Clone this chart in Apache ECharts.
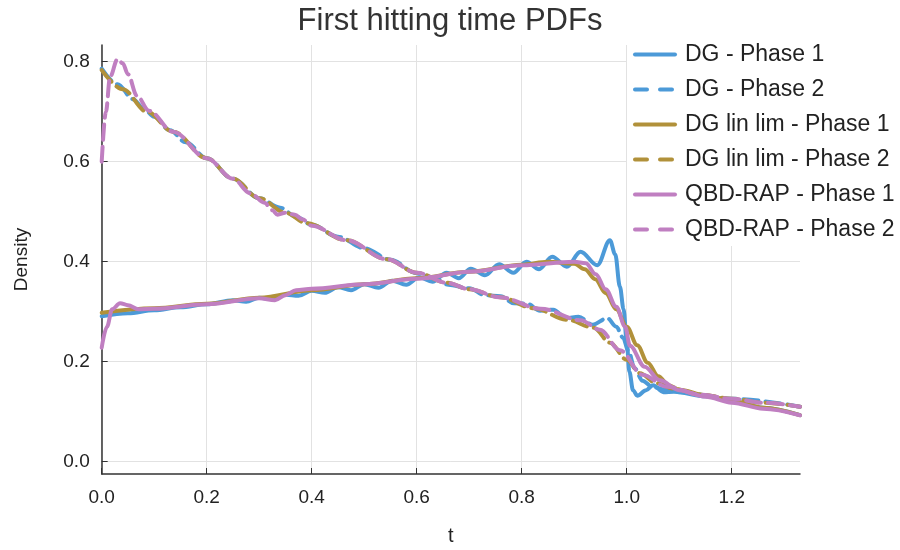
<!DOCTYPE html>
<html>
<head>
<meta charset="utf-8">
<script src="https://cdn.jsdelivr.net/npm/echarts@6/dist/echarts.min.js"></script>
<style>
  html, body { margin: 0; padding: 0; background: #fff; }
  #main { width: 900px; height: 550px; }
</style>
</head>
<body>
<div id="main"></div>
<script>
// [t, density] pairs
var dgPhase1 = [
  [0, 0.291], [0.05, 0.297], [0.1, 0.303], [0.15, 0.309], [0.2, 0.315], [0.25, 0.323],
  [0.275, 0.320], [0.3, 0.328], [0.325, 0.325], [0.35, 0.334], [0.375, 0.332], [0.4, 0.342],
  [0.425, 0.338], [0.45, 0.349], [0.475, 0.343], [0.5, 0.355], [0.527, 0.348], [0.553, 0.362],
  [0.58, 0.354], [0.605, 0.369], [0.63, 0.360], [0.657, 0.378], [0.68, 0.367], [0.703, 0.386],
  [0.73, 0.373], [0.757, 0.395], [0.784, 0.378], [0.809, 0.400], [0.833, 0.385], [0.858, 0.410],
  [0.886, 0.390], [0.912, 0.420], [0.944, 0.393], [0.968, 0.443], [0.978, 0.415], [0.987, 0.350],
  [0.994, 0.305], [1.0, 0.240], [1.005, 0.180], [1.012, 0.143], [1.02, 0.132], [1.037, 0.143],
  [1.05, 0.153], [1.07, 0.139], [1.09, 0.140], [1.15, 0.131], [1.2, 0.121], [1.26, 0.108],
  [1.33, 0.093]
];
var dgPhase2 = [
  [0, 0.786], [0.03, 0.755], [0.06, 0.725], [0.08, 0.706], [0.1, 0.690], [0.13, 0.663],
  [0.16, 0.639], [0.2, 0.607], [0.25, 0.566], [0.3, 0.527], [0.34, 0.508], [0.37, 0.490],
  [0.4, 0.474], [0.45, 0.450], [0.5, 0.427], [0.55, 0.404], [0.6, 0.377], [0.63, 0.369],
  [0.66, 0.354], [0.7, 0.347], [0.73, 0.333], [0.76, 0.331], [0.785, 0.317], [0.81, 0.316],
  [0.835, 0.302], [0.86, 0.304], [0.885, 0.287], [0.908, 0.290], [0.935, 0.274], [0.963, 0.287],
  [0.98, 0.270], [0.993, 0.248], [1.003, 0.222], [1.015, 0.187], [1.03, 0.162], [1.05, 0.149],
  [1.075, 0.144], [1.1, 0.139], [1.2, 0.126], [1.33, 0.110]
];
var linPhase1 = [
  [0, 0.298], [0.1, 0.307], [0.2, 0.316], [0.3, 0.328], [0.4, 0.343], [0.5, 0.355],
  [0.6, 0.367], [0.7, 0.380], [0.8, 0.394], [0.85, 0.400], [0.9, 0.396], [0.92, 0.385],
  [0.94, 0.365], [0.96, 0.337], [0.98, 0.305], [1.0, 0.270], [1.02, 0.233], [1.04, 0.198],
  [1.06, 0.171], [1.08, 0.153], [1.1, 0.144], [1.15, 0.133], [1.2, 0.122], [1.26, 0.108],
  [1.33, 0.093]
];
var linPhase2 = [
  [0, 0.783], [0.04, 0.745], [0.086, 0.700], [0.136, 0.660], [0.2, 0.607], [0.25, 0.566],
  [0.3, 0.527], [0.35, 0.498], [0.39, 0.477], [0.466, 0.443], [0.543, 0.405], [0.6, 0.378],
  [0.657, 0.358], [0.7, 0.345], [0.758, 0.329], [0.823, 0.307], [0.886, 0.284], [0.937, 0.268],
  [0.968, 0.238], [1.0, 0.204], [1.025, 0.177], [1.057, 0.157], [1.089, 0.146], [1.14, 0.134],
  [1.2, 0.126], [1.26, 0.118], [1.33, 0.110]
];
var qbdPhase1 = [
  [0, 0.228], [0.01, 0.270], [0.02, 0.305], [0.035, 0.317], [0.05, 0.313], [0.07, 0.305],
  [0.1, 0.306], [0.2, 0.315], [0.3, 0.327], [0.33, 0.323], [0.35, 0.333], [0.37, 0.343],
  [0.4, 0.346], [0.5, 0.355], [0.6, 0.366], [0.7, 0.380], [0.8, 0.393], [0.9, 0.400],
  [0.922, 0.397], [0.941, 0.375], [0.96, 0.345], [0.98, 0.310], [0.997, 0.270], [1.006, 0.232],
  [1.034, 0.190], [1.063, 0.163], [1.1, 0.143], [1.15, 0.130], [1.2, 0.118], [1.26, 0.106],
  [1.33, 0.093]
];
var qbdPhase2 = [
  [0, 0.600], [0.008, 0.700], [0.016, 0.770], [0.03, 0.805], [0.04, 0.797], [0.05, 0.775],
  [0.067, 0.732], [0.09, 0.702], [0.136, 0.660], [0.2, 0.607], [0.25, 0.566], [0.283, 0.537],
  [0.31, 0.518], [0.325, 0.503], [0.335, 0.494], [0.35, 0.498], [0.368, 0.494], [0.382, 0.485],
  [0.4, 0.472], [0.466, 0.443], [0.543, 0.405], [0.6, 0.378], [0.657, 0.358], [0.7, 0.345],
  [0.758, 0.329], [0.836, 0.306], [0.912, 0.283], [0.949, 0.264], [0.987, 0.223], [1.03, 0.174],
  [1.076, 0.150], [1.14, 0.134], [1.2, 0.126], [1.26, 0.118], [1.33, 0.110]
];

var seriesNames = ['DG - Phase 1', 'DG - Phase 2', 'DG lin lim - Phase 1',
                   'DG lin lim - Phase 2', 'QBD-RAP - Phase 1', 'QBD-RAP - Phase 2'];
var seriesData = [dgPhase1, dgPhase2, linPhase1, linPhase2, qbdPhase1, qbdPhase2];
var seriesColors = ['#4c9ad8', '#4c9ad8', '#b1913a', '#b1913a', '#c07fc1', '#c07fc1'];
var xTicks = [0, 0.2, 0.4, 0.6, 0.8, 1.0, 1.2];
var yTicks = [0, 0.2, 0.4, 0.6, 0.8];

var chart = echarts.init(document.getElementById('main'));

var series = [];
var legendData = [];
for (var i = 0; i < seriesData.length; i++) {
  var dashed = i % 2 === 1;
  series.push({
    name: seriesNames[i],
    type: 'line',
    data: seriesData[i],
    symbol: 'none',
    smooth: 0.35,
    smoothMonotone: 'x',
    color: seriesColors[i],
    lineStyle: { width: 4, type: dashed ? [15, 7] : 'solid', cap: 'round' }
  });
  legendData.push({
    name: seriesNames[i],
    itemStyle: { opacity: 0 },
    lineStyle: { width: 4, type: dashed ? [12, 13] : 'solid' }
  });
}

var font = 'Liberation Sans, Arial, sans-serif';

option = {
  animation: false,
  backgroundColor: '#fff',
  title: {
    text: 'First hitting time PDFs',
    left: 'center',
    top: 1,
    textStyle: { fontSize: 31, fontWeight: 'normal', color: '#333', fontFamily: font }
  },
  legend: {
    orient: 'vertical',
    left: 628,
    top: 38,
    itemWidth: 40,
    itemHeight: 20,
    itemGap: 12,
    data: legendData,
    itemStyle: { opacity: 0 },
    textStyle: { fontSize: 23, color: '#222', fontFamily: font, padding: [0, 0, 0, 5] }
  },
  graphic: [{
    type: 'rect',
    z: 1,
    shape: { x: 627, y: 36, width: 273, height: 210 },
    style: { fill: '#fff' }
  }],
  grid: { left: 101.7, right: 100, top: 45, bottom: 76, outerBoundsMode: 'none' },
  xAxis: {
    type: 'value',
    min: 0,
    max: 1.33,
    name: 't',
    nameLocation: 'middle',
    nameGap: 52,
    nameTextStyle: { fontSize: 20, color: '#222', fontFamily: font },
    axisLine: { onZero: false, lineStyle: { color: '#333', width: 1.5 } },
    axisTick: { inside: true, length: 6, customValues: xTicks, lineStyle: { color: '#333' } },
    axisLabel: {
      customValues: xTicks, fontSize: 19, color: '#222', fontFamily: font, margin: 14,
      formatter: function (v) { return v.toFixed(1); }
    },
    splitLine: { show: true, lineStyle: { color: '#e2e2e2', width: 1 } }
  },
  yAxis: {
    type: 'value',
    min: -0.0246,
    max: 0.8334,
    name: 'Density',
    nameLocation: 'middle',
    nameGap: 70,
    nameTextStyle: { fontSize: 19, color: '#222', fontFamily: font },
    axisLine: { show: true, onZero: false, lineStyle: { color: '#333', width: 1.5 } },
    axisTick: { show: true, inside: true, length: 6, customValues: yTicks, lineStyle: { color: '#333' } },
    axisLabel: {
      customValues: yTicks, fontSize: 19, color: '#222', fontFamily: font, margin: 12,
      formatter: function (v) { return v.toFixed(1); }
    },
    splitLine: { show: true, lineStyle: { color: '#e2e2e2', width: 1 } }
  },
  series: series
};

chart.setOption(option);
</script>
</body>
</html>
